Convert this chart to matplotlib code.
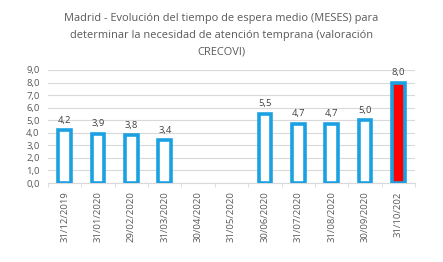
import matplotlib.pyplot as plt
import numpy as np

# datos
fechas = ['31/12/2019', '31/01/2020', '29/02/2020', '31/03/2020', '30/04/2020',
          '31/05/2020', '30/06/2020', '31/07/2020', '31/08/2020', '30/09/2020',
          '31/10/202']
meses = [4.2, 3.9, 3.8, 3.4, None, None, 5.5, 4.7, 4.7, 5.0, 8.0]
titulo = ('Madrid - Evolución del tiempo de espera medio (MESES) para\n'
          'determinar la necesidad de atención temprana (valoración\nCRECOVI)')

azul = '#1BA1E2'
gris = '#595959'

fig = plt.figure(figsize=(4.43, 2.62), dpi=100)
ax = fig.add_axes([48 / 443, 1 - 183 / 262, 367 / 443, 113 / 262])

x = np.arange(len(fechas))
for i, v in enumerate(meses):
    if v is None:
        continue
    color = '#FF0000' if i == len(fechas) - 1 else 'white'
    ax.bar(i, v, width=0.38, color=color, edgecolor=azul, linewidth=2.6, zorder=3)
    ax.text(i, v + 0.45, f'{v:.1f}'.replace('.', ','), ha='center', va='bottom',
            fontsize=6.8, color='#404040', family='Open Sans')

ax.set_xlim(-0.5, len(fechas) - 0.5)
ax.set_ylim(0, 9)
ax.set_yticks(np.arange(0, 10, 1))
ax.set_yticklabels([f'{t:.1f}'.replace('.', ',') for t in range(10)],
                   fontsize=6.8, color=gris, family='Open Sans')
ax.yaxis.grid(True, color='#D9D9D9', linewidth=0.8, zorder=0)
ax.tick_params(axis='y', length=0, pad=6)

ax.set_xticks(x)
ax.set_xticklabels(fechas, rotation=90, fontsize=6.8, color=gris, family='Open Sans')
ax.set_xticks(np.arange(-0.5, len(fechas)), minor=True)
ax.tick_params(axis='x', which='major', length=0, pad=6)
ax.tick_params(axis='x', which='minor', length=3, color='#D9D9D9')

for s in ['top', 'right', 'left']:
    ax.spines[s].set_visible(False)
ax.spines['bottom'].set_color('#D9D9D9')

fig.text(0.5, 1 - 13 / 262, titulo, ha='center', va='top', fontsize=7.9, color=gris,
         family='Open Sans', linespacing=1.75)

fig.savefig('out.png', dpi=100)
